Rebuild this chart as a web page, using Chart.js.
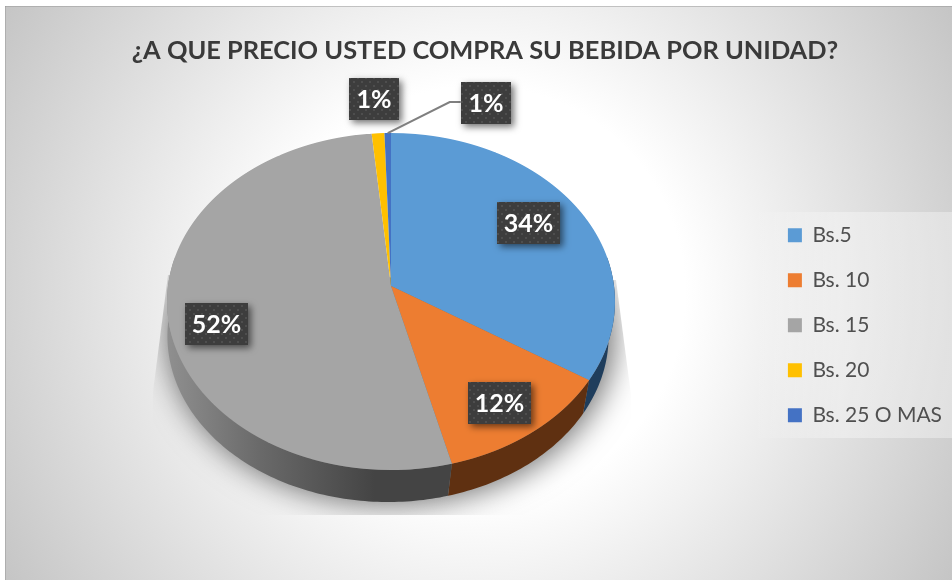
<!DOCTYPE html>
<html>
<head>
<meta charset="utf-8">
<style>html,body{margin:0;padding:0;background:#fff}canvas{display:block}</style>
<script src="https://cdn.jsdelivr.net/npm/chart.js@4"></script>
</head>
<body>
<canvas id="c" width="952" height="580"></canvas>
<script>
const chartTitle = "¿A QUE PRECIO USTED COMPRA SU BEBIDA POR UNIDAD?";
const categories = ["Bs.5", "Bs. 10", "Bs. 15", "Bs. 20", "Bs. 25 O MAS"];
const shares = [34, 12, 52.49, 1, 0.51];
const sliceColors = ["#5b9bd5", "#ed7d31", "#a5a5a5", "#ffc000", "#4472c4"];
const wallColors = ["#1f3d5c", "#5f3011", null, "#6a5000", "#1f3560"];
// label centre offset from the slice's rim point at mid angle
const labelOffsets = [[-50, 14], [-33, -29], [49, 9], [-4, -34], [98, -30]];

const FONT = "Lato, Carlito, 'Open Sans', sans-serif";
// perspective projection of the pie disc
const P = {hx: 391, hy: 286, a: 223, b: 167.07, p: -0.092};
const W = {hx: 388, hy: 320.8, scale: 0.985};

function project(theta, base) {
  const u = Math.sin(theta), v = -Math.cos(theta), w = 1 + P.p * v;
  const k = base ? W.scale : 1;
  return {
    x: (base ? W.hx : P.hx) + k * P.a * u / w,
    y: (base ? W.hy : P.hy) + k * P.b * v / w
  };
}

function drawPerspectiveArcs(ctx, arcs) {
  const R = arcs[0].outerRadius, cx = arcs[0].x, cy = arcs[0].y;
  const vOf = Y => Y / (P.b - P.p * Y);
  for (let row = 130; row < 475; row++) {
    const Y0 = row - P.hy, Y1 = Y0 + 1;
    const v0 = vOf(Y0), v1 = vOf(Y1);
    if (v0 > 1.02 || v1 < -1.02) continue;
    const vm = (v0 + v1) / 2;
    const sx = P.a / (R * (1 + P.p * vm));
    const sy = 1 / (R * (v1 - v0));
    for (const arc of arcs) {
      ctx.save();
      ctx.beginPath();
      ctx.rect(0, row, 952, 1);
      ctx.clip();
      ctx.setTransform(sx, 0, 0, sy, P.hx - sx * cx, row - sy * (cy + R * v0));
      arc.draw(ctx);
      ctx.restore();
    }
  }
}

function drawWalls(ctx, arcs) {
  const lo = 80 * Math.PI / 180, hi = 280 * Math.PI / 180;
  arcs.forEach((arc, i) => {
    const s = Math.max(arc.startAngle + Math.PI / 2, lo);
    const e = Math.min(arc.endAngle + Math.PI / 2, hi);
    if (e <= s) return;
    const n = Math.max(2, Math.ceil((e - s) * 180 / Math.PI));
    ctx.beginPath();
    for (let k = 0; k <= n; k++) {
      const p = project(s + (e - s) * k / n, false);
      k ? ctx.lineTo(p.x, p.y) : ctx.moveTo(p.x, p.y);
    }
    for (let k = n; k >= 0; k--) {
      const p = project(s + (e - s) * k / n, true);
      ctx.lineTo(p.x, p.y);
    }
    ctx.closePath();
    if (wallColors[i]) {
      ctx.fillStyle = wallColors[i];
    } else {
      const g = ctx.createLinearGradient(168, 0, 375, 0);
      g.addColorStop(0, "#8f8f8f");
      g.addColorStop(0.45, "#696969");
      g.addColorStop(1, "#444444");
      ctx.fillStyle = g;
    }
    ctx.fill();
  });
}

function drawFloorShadow(ctx) {
  ctx.save();
  ctx.beginPath();
  ctx.moveTo(168, 275);
  ctx.lineTo(153, 392);
  ctx.lineTo(153, 515);
  ctx.lineTo(631, 515);
  ctx.lineTo(631, 395);
  ctx.lineTo(616, 280);
  ctx.closePath();
  ctx.clip();
  ctx.shadowColor = "rgba(0,0,0,0.55)";
  ctx.shadowBlur = 30;
  ctx.shadowOffsetX = 2000;
  ctx.fillStyle = "#000";
  ctx.beginPath();
  ctx.ellipse(391 - 2000, 334, 224, 171, 0, 0, Math.PI * 2);
  ctx.fill();
  ctx.restore();
}

let dotPattern = null;
function labelFill(ctx) {
  if (!dotPattern) {
    const t = document.createElement("canvas");
    t.width = 8; t.height = 8;
    const c = t.getContext("2d");
    c.fillStyle = "#3d3d3d"; c.fillRect(0, 0, 8, 8);
    c.fillStyle = "#4e4e4e"; c.fillRect(1, 1, 2, 2); c.fillRect(5, 5, 2, 2);
    dotPattern = ctx.createPattern(t, "repeat");
  }
  return dotPattern;
}

function drawLabels(ctx, arcs) {
  const total = shares.reduce((a, b) => a + b, 0);
  arcs.forEach((arc, i) => {
    const mid = (arc.startAngle + arc.endAngle) / 2 + Math.PI / 2;
    const rim = project(mid, false);
    const cx = rim.x + labelOffsets[i][0], cy = rim.y + labelOffsets[i][1];
    const text = Math.round(shares[i] / total * 100) + "%";
    const w = text.length > 2 ? 63 : 50, h = 42;
    if (i === arcs.length - 1) {
      ctx.strokeStyle = "#7f7f7f";
      ctx.lineWidth = 2;
      ctx.beginPath();
      ctx.moveTo(rim.x, rim.y);
      ctx.lineTo(cx - w / 2 - 11, cy - 1);
      ctx.lineTo(cx - w / 2, cy - 1);
      ctx.stroke();
    }
    ctx.save();
    ctx.shadowColor = "rgba(0,0,0,0.55)";
    ctx.shadowBlur = 7;
    ctx.shadowOffsetX = 3;
    ctx.shadowOffsetY = 3;
    ctx.fillStyle = labelFill(ctx);
    const bx = Math.round(cx - w / 2), by = Math.round(cy - h / 2);
    ctx.fillRect(bx, by, w, h);
    ctx.restore();
    ctx.fillStyle = "#ffffff";
    ctx.font = "bold 25px " + FONT;
    ctx.textAlign = "center";
    ctx.textBaseline = "middle";
    ctx.fillText(text, bx + w / 2, by + h / 2 + 1);
  });
}

const pie3d = {
  id: "pie3d",
  beforeDraw(chart) {
    const ctx = chart.ctx;
    ctx.save();
    ctx.fillStyle = "#fff";
    ctx.fillRect(0, 0, 952, 580);
    const g = ctx.createRadialGradient(478, 293, 207, 478, 293, 559);
    g.addColorStop(0, "#ffffff");
    g.addColorStop(1, "#c4c4c4");
    ctx.fillStyle = g;
    ctx.fillRect(5, 6, 947, 574);
    ctx.fillStyle = "rgba(150,150,150,0.5)";
    ctx.fillRect(5, 6, 947, 1);
    ctx.fillRect(5, 6, 1, 574);
    const lg = ctx.createLinearGradient(750, 0, 840, 0);
    lg.addColorStop(0, "rgba(255,255,255,0)");
    lg.addColorStop(1, "rgba(255,255,255,0.35)");
    ctx.fillStyle = lg;
    ctx.fillRect(750, 212, 202, 226);
    ctx.restore();
  },
  beforeDatasetsDraw(chart) {
    const ctx = chart.ctx;
    const arcs = chart.getDatasetMeta(0).data;
    ctx.save();
    drawFloorShadow(ctx);
    drawWalls(ctx, arcs);
    drawPerspectiveArcs(ctx, arcs);
    drawLabels(ctx, arcs);
    ctx.restore();
    return false;
  }
};

new Chart(document.getElementById("c"), {
  type: "pie",
  data: {
    labels: categories,
    datasets: [{data: shares, backgroundColor: sliceColors, borderWidth: 0}]
  },
  plugins: [pie3d],
  options: {
    responsive: false,
    animation: false,
    events: [],
    layout: {padding: {left: 18, right: 0, top: 36, bottom: 0}},
    plugins: {
      tooltip: {enabled: false},
      title: {
        display: true,
        text: chartTitle,
        color: "#3a3a3a",
        font: {family: FONT, size: 25.4, weight: "bold"},
        padding: {top: 0, bottom: 4}
      },
      legend: {
        position: "right",
        fullSize: false,
        labels: {
          boxWidth: 14,
          boxHeight: 14,
          padding: 24,
          color: "#505050",
          font: {family: FONT, size: 21}
        }
      }
    }
  }
});
</script>
</body>
</html>
